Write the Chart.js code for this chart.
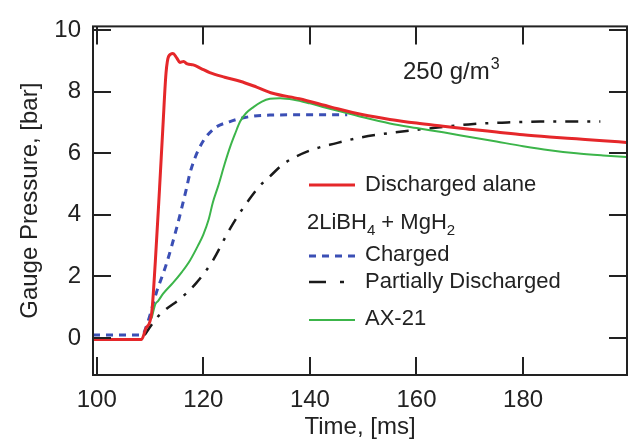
<!DOCTYPE html>
<html>
<head>
<meta charset="utf-8">
<script src="https://cdn.jsdelivr.net/npm/chart.js@4/dist/chart.umd.min.js"></script>
<style>
  html, body { margin: 0; padding: 0; background: #fff; }
  #wrap { width: 631px; height: 446px; }
</style>
</head>
<body>
<div id="wrap"><canvas id="chart" width="631" height="446"></canvas></div>
<script>
// time [ms] and gauge pressure [bar]
var alaneT = [99.3, 108.4, 109.2, 110.3, 111.0, 111.8, 112.4, 113.0, 113.5, 114.3, 115.0, 115.6, 116.3, 117.0, 118.1, 119.5, 121.2, 124, 126.9, 130, 133, 138, 144, 150, 155, 160, 165, 170, 175, 180, 185, 190, 195, 199.4];
var alaneP = [-0.05, -0.05, 0.3, 0.8, 2.5, 4.9, 6.8, 8.6, 9.15, 9.24, 9.1, 8.95, 8.98, 8.9, 8.87, 8.76, 8.62, 8.47, 8.34, 8.15, 7.95, 7.77, 7.5, 7.25, 7.1, 6.98, 6.88, 6.78, 6.69, 6.6, 6.53, 6.47, 6.41, 6.35];

var chargedT = [99.3, 108.5, 109.6, 111.2, 113.1, 115, 116.8, 117.5, 119.3, 121.8, 125, 128.7, 132.5, 140, 147];
var chargedP = [0.1, 0.1, 0.53, 1.48, 2.42, 3.58, 4.83, 5.36, 6.19, 6.77, 7.03, 7.19, 7.24, 7.25, 7.25];

var partialT = [109.0, 110.3, 111.5, 113.1, 115.6, 118.7, 121.8, 124.4, 126.2, 128.7, 130.6, 132.5, 135, 140, 145, 149.4, 155.6, 163.1, 170.7, 177, 183.2, 194.5];
var partialP = [0.1, 0.43, 0.7, 0.95, 1.27, 1.79, 2.52, 3.36, 3.89, 4.52, 4.94, 5.25, 5.65, 6.09, 6.33, 6.51, 6.67, 6.82, 6.95, 7.0, 7.03, 7.03];

var ax21T = [110.3, 111.0, 111.5, 112.5, 114.3, 116, 117.5, 119, 120, 121, 121.8, 122.8, 124, 125, 126, 126.9, 128, 129.4, 131, 132.5, 134.4, 137, 140, 143, 146, 150, 155, 160, 165, 170, 175, 180, 185, 190, 195, 199.4];
var ax21P = [0.64, 1.1, 1.2, 1.45, 1.79, 2.15, 2.52, 3.0, 3.36, 3.85, 4.41, 4.94, 5.65, 6.19, 6.65, 7.03, 7.3, 7.5, 7.68, 7.77, 7.79, 7.74, 7.62, 7.48, 7.35, 7.17, 6.97, 6.82, 6.68, 6.53, 6.38, 6.23, 6.1, 6.0, 5.93, 5.88];

var xTicks = [100, 120, 140, 160, 180];
var yTicks = [0, 2, 4, 6, 8, 10];

function pts(t, p) {
  return t.map(function (v, i) { return { x: v, y: p[i] }; });
}

var fontFam = '"Liberation Sans", Arial, sans-serif';
var ink = '#222';

// box frame, inward ticks, legend and the 250 g/m3 note
var framePlugin = {
  id: 'frame',
  afterDatasetsDraw: function (chart) {
    var c = chart.ctx, a = chart.chartArea;
    var xs = chart.scales.x, ys = chart.scales.y;
    c.save();
    c.strokeStyle = ink;
    c.lineWidth = 2;
    c.setLineDash([]);
    c.strokeRect(a.left, a.top, a.right - a.left, a.bottom - a.top);
    var L = 18;
    c.beginPath();
    xTicks.forEach(function (v) {
      var px = Math.round(xs.getPixelForValue(v));
      c.moveTo(px, a.bottom); c.lineTo(px, a.bottom - L);
      c.moveTo(px, a.top); c.lineTo(px, a.top + L);
    });
    yTicks.forEach(function (v) {
      var py = Math.round(ys.getPixelForValue(v));
      c.moveTo(a.left, py); c.lineTo(a.left + L, py);
      c.moveTo(a.right, py); c.lineTo(a.right - L, py);
    });
    c.stroke();

    // legend
    var ds = chart.data.datasets;
    var x0 = 309, x1 = 355, tx = 365;
    c.textBaseline = 'middle';
    c.fillStyle = ink;
    function sample(d, y) {
      c.strokeStyle = d.borderColor;
      c.lineWidth = d.borderWidth;
      c.setLineDash(d.borderDash || []);
      c.beginPath(); c.moveTo(x0, y); c.lineTo(x1, y); c.stroke();
      c.setLineDash([]);
    }
    c.font = '22px ' + fontFam;
    sample(ds[0], 185); c.fillText(ds[0].label, tx, 185);
    // group header 2LiBH4 + MgH2
    var hx = 307, hy = 223;
    var parts = [['2LiBH', 0], ['4', 1], [' + MgH', 0], ['2', 1]];
    parts.forEach(function (p) {
      c.font = (p[1] ? '15px ' : '22px ') + fontFam;
      c.fillText(p[0], hx, hy + (p[1] ? 8 : 0));
      hx += c.measureText(p[0]).width;
    });
    c.font = '22px ' + fontFam;
    sample(ds[2], 256); c.fillText(ds[2].label, tx, 255);
    c.strokeStyle = ds[3].borderColor; c.lineWidth = ds[3].borderWidth;
    c.beginPath(); c.moveTo(x0, 282); c.lineTo(x0 + 17, 282);
    c.moveTo(x0 + 31, 282); c.lineTo(x0 + 35, 282); c.stroke();
    c.fillText(ds[3].label, tx, 282);
    sample(ds[1], 320); c.fillText(ds[1].label, tx, 319);

    // concentration note
    c.fillStyle = ink;
    c.font = '24px ' + fontFam;
    var nx = 403, ny = 72;
    c.fillText('250 g/m', nx, ny);
    nx += c.measureText('250 g/m').width + 1;
    c.font = '16px ' + fontFam;
    c.fillText('3', nx, ny - 7);
    c.restore();
  }
};

new Chart(document.getElementById('chart').getContext('2d'), {
  type: 'line',
  data: {
    datasets: [
      { label: 'Discharged alane', data: pts(alaneT, alaneP), borderColor: '#e5272a', borderWidth: 3 },
      { label: 'AX-21', data: pts(ax21T, ax21P), borderColor: '#3cb54a', borderWidth: 2 },
      { label: 'Charged', data: pts(chargedT, chargedP), borderColor: '#3b4fb5', borderWidth: 3, borderDash: [7, 6] },
      { label: 'Partially Discharged', data: pts(partialT, partialP), borderColor: '#1a1a1a', borderWidth: 2.5, borderDash: [13, 9, 3, 9] }
    ]
  },
  options: {
    responsive: false,
    animation: false,
    elements: {
      point: { radius: 0 },
      line: { cubicInterpolationMode: 'monotone', fill: false }
    },
    layout: { padding: { top: 15, right: 4, left: 0, bottom: 0 } },
    plugins: { legend: { display: false }, tooltip: { enabled: false } },
    scales: {
      x: {
        type: 'linear',
        min: 99.3,
        max: 199.5,
        grid: { display: false, drawTicks: false },
        border: { display: false },
        ticks: { padding: 11, color: ink, font: { family: fontFam, size: 24 } },
        afterBuildTicks: function (s) { s.ticks = xTicks.map(function (v) { return { value: v }; }); },
        title: { display: true, text: 'Time, [ms]', color: ink, padding: { bottom: 4 }, font: { family: fontFam, size: 24 } },
        afterFit: function (s) { s.height = 71; }
      },
      y: {
        min: -1.2,
        max: 10.12,
        grid: { display: false, drawTicks: false },
        border: { display: false },
        ticks: { padding: 12, color: ink, font: { family: fontFam, size: 24 } },
        afterBuildTicks: function (s) { s.ticks = yTicks.map(function (v) { return { value: v }; }); },
        title: { display: true, text: 'Gauge Pressure, [bar]', color: ink, padding: { top: 16 }, font: { family: fontFam, size: 24 } },
        afterFit: function (s) { s.width = 93; }
      }
    }
  },
  plugins: [framePlugin]
});
</script>
</body>
</html>
